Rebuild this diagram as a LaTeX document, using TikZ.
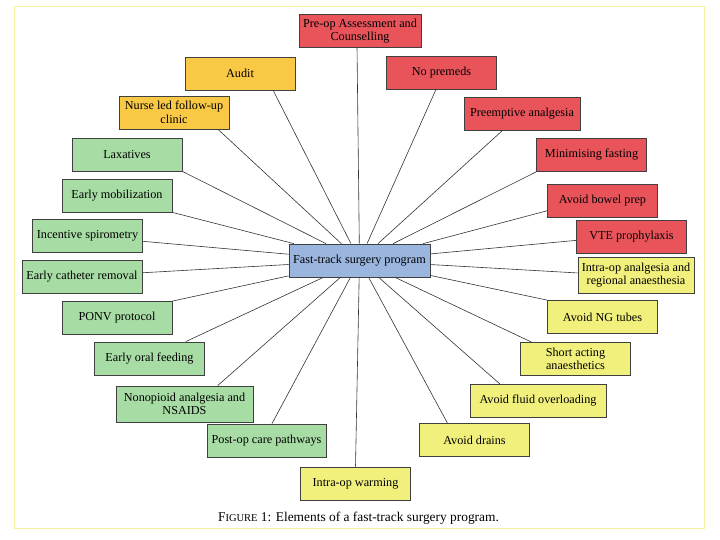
\documentclass[tikz,border=0pt]{standalone}
\usepackage{fontspec}
\setmainfont{Liberation Serif}
\usepackage{tikz}
\usetikzlibrary{positioning}
\definecolor{redel}{HTML}{E9545B}
\definecolor{goldel}{HTML}{F9C946}
\definecolor{greenel}{HTML}{A7DCA5}
\definecolor{yelel}{HTML}{F1F07C}
\definecolor{blueel}{HTML}{9AB6DF}
\definecolor{framey}{HTML}{F2F1A4}
\tikzset{
  elem/.style={draw=black!75,line width=0.8pt,minimum width=110pt,minimum height=33pt,align=center,inner sep=1pt,font=\fontsize{12.2}{13.5}\selectfont},
  prebox/.style={elem,fill=redel},
  auditbox/.style={elem,fill=goldel},
  postbox/.style={elem,fill=greenel},
  intrabox/.style={elem,fill=yelel},
  hubbox/.style={elem,fill=blueel,minimum width=141pt},
  spoke/.style={black!80,line width=0.6pt}
}
\newcommand{\figsc}{F{\fontsize{10.5}{12}\selectfont IGURE}}

\begin{document}
\begin{tikzpicture}[x=1pt,y=-1pt]
\useasboundingbox (0,0) rectangle (720,540);
\draw[framey,line width=1pt] (14,7) rectangle (704,528);
\node[hubbox] (hub) at (359.5,260.5) {Fast-track surgery program};
\node[prebox,minimum width=122pt] (preop) at (360,31) {Pre-op Assessment and\\Counselling};
\node[prebox] (nopremed) at (441.5,72.5) {No premeds};
\node[prebox,minimum width=116pt] (preempt) at (522,113.5) {Preemptive analgesia};
\node[prebox] (fasting) at (591.5,155) {Minimising fasting};
\node[prebox] (bowel) at (602.5,201) {Avoid bowel prep};
\node[prebox] (vte) at (631.5,236.5) {VTE prophylaxis};
\node[intrabox,minimum width=116pt,minimum height=36pt] (regional) at (636,275) {Intra-op analgesia and\\regional anaesthesia};
\node[intrabox] (ngtube) at (602.5,317) {Avoid NG tubes};
\node[intrabox] (shortact) at (575.5,359) {Short acting\\anaesthetics};
\node[intrabox,minimum width=136pt] (fluid) at (538,401) {Avoid fluid overloading};
\node[intrabox] (drains) at (474.5,440) {Avoid drains};
\node[intrabox] (warming) at (355.5,483.5) {Intra-op warming};
\node[postbox,minimum width=119pt] (pathway) at (266.5,440.5) {Post-op care pathways};
\node[postbox,minimum width=137pt,minimum height=36pt] (nonopioid) at (184.5,404) {Nonopioid analgesia and\\NSAIDS};
\node[postbox] (oralfeed) at (149.5,358.5) {Early oral feeding};
\node[postbox] (ponv) at (117,318) {PONV protocol};
\node[postbox,minimum width=120pt] (catheter) at (82,277) {Early catheter removal};
\node[postbox] (spiro) at (87.5,235.5) {Incentive spirometry};
\node[postbox] (mobil) at (117,195.5) {Early mobilization};
\node[postbox] (laxat) at (127,154.5) {Laxatives};
\node[auditbox] (nurse) at (174,112.5) {Nurse led follow-up\\clinic};
\node[auditbox] (audit) at (240,73.5) {Audit};
\foreach \n/\a in {preop/-100,nopremed/252,preempt/221,fasting/south west,bowel/190,vte/184,regional/178,ngtube/north west,shortact/159,fluid/156,drains/148,warming/north,pathway/72,nonopioid/29,oralfeed/25,ponv/north east,catheter/4,spiro/-6,mobil/south east,laxat/south east,nurse/-21,audit/-27}
  \draw[spoke] (hub) -- (\n.\a);
\node[font=\fontsize{13.4}{15}\selectfont] (caption) at (358.5,518) {\figsc\ 1: Elements of a fast-track surgery program.};
\end{tikzpicture}
\end{document}
